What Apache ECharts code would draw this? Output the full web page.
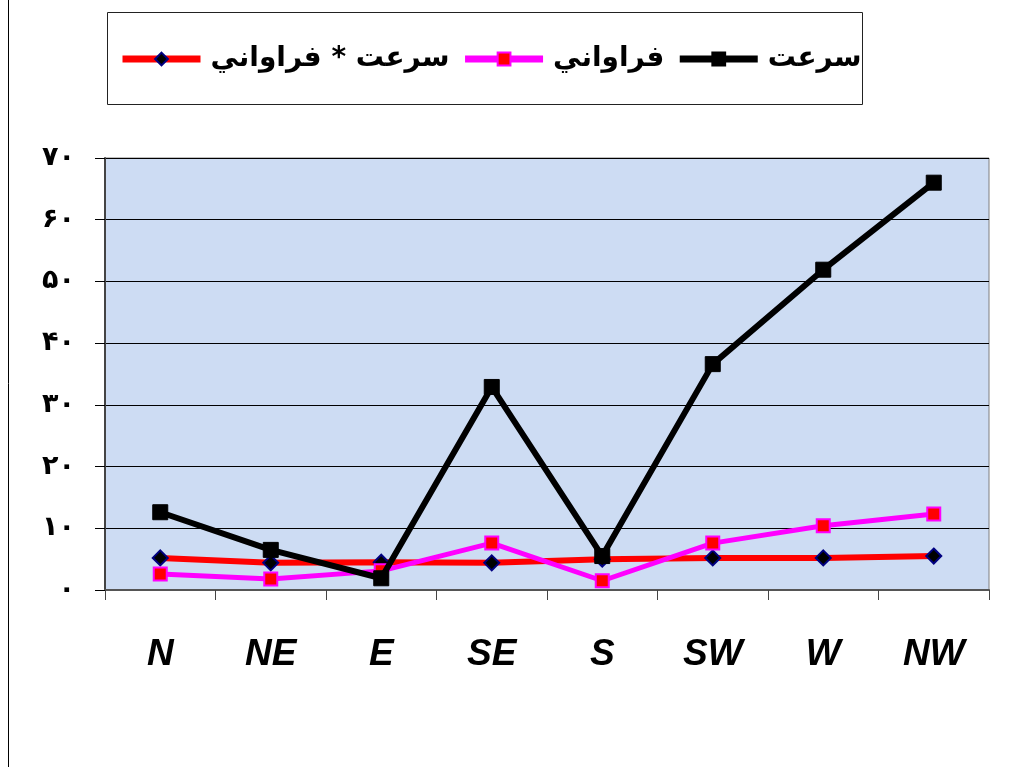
<!DOCTYPE html>
<html>
<head>
<meta charset="utf-8">
<script src="https://cdn.jsdelivr.net/npm/echarts@6/dist/echarts.min.js"></script>
<style>
html,body{margin:0;padding:0;background:#fff;}
#c{width:1013px;height:767px;}
</style>
</head>
<body>
<div id="c"></div>
<script>
const categories = ['N', 'NE', 'E', 'SE', 'S', 'SW', 'W', 'NW'];
const speed = [12.6, 6.5, 1.9, 32.9, 5.5, 36.6, 51.9, 66.0];          // سرعت
const frequency = [2.6, 1.8, 3.1, 7.6, 1.5, 7.6, 10.4, 12.3];       // فراواني
const product = [5.2, 4.4, 4.5, 4.4, 5.0, 5.2, 5.2, 5.5];            // سرعت * فراواني
const yTickLabels = ['۰', '۱۰', '۲۰', '۳۰', '۴۰', '۵۰', '۶۰', '۷۰'];
const seriesNames = ['سرعت * فراواني', 'فراواني', 'سرعت'];

const chart = echarts.init(document.getElementById('c'), null, {renderer: 'canvas'});
chart.setOption({
  backgroundColor: '#ffffff',
  animation: false,
  graphic: [
    {type: 'line', shape: {x1: 8.5, y1: 0, x2: 8.5, y2: 767}, style: {stroke: '#000', lineWidth: 1}},
    {type: 'rect', shape: {x: 107.5, y: 12.5, width: 755, height: 92}, style: {fill: '#fff', stroke: '#222', lineWidth: 1}, z: -1}
  ],
  legend: {
    data: seriesNames,
    left: 114,
    top: 40,
    itemWidth: 78,
    itemHeight: 16,
    itemGap: 12,
    lineStyle: {width: 7},
    textStyle: {fontFamily: 'DejaVu Sans', fontWeight: 'bold', fontSize: 28, color: '#000', padding: [0, 0, 0, 5]}
  },
  grid: {
    left: 105, right: 24, top: 158, bottom: 177,
    show: true, backgroundColor: '#cddcf3', borderColor: '#7f7f7f', borderWidth: 1
  },
  xAxis: {
    type: 'category',
    data: categories,
    boundaryGap: true,
    axisLine: {lineStyle: {color: '#555', width: 2}},
    axisTick: {show: true, length: 10, lineStyle: {color: '#444', width: 1}},
    axisLabel: {
      margin: 46, fontFamily: 'Liberation Sans', fontStyle: 'italic', fontWeight: 'bold',
      fontSize: 37, color: '#000'
    }
  },
  yAxis: {
    type: 'value',
    min: 0, max: 70, interval: 10,
    axisLine: {show: true, lineStyle: {color: '#444', width: 2}},
    axisTick: {show: true, length: 10, lineStyle: {color: '#000'}},
    splitLine: {show: true, lineStyle: {color: '#000', width: 1}},
    axisLabel: {
      margin: 30, fontFamily: 'DejaVu Sans', fontWeight: 'bold', fontSize: 27, color: '#000',
      formatter: v => yTickLabels[Math.round(v / 10)]
    }
  },
  series: [
    {
      name: seriesNames[0], type: 'line', data: product,
      lineStyle: {color: '#ff0000', width: 6},
      symbol: 'diamond', symbolSize: 15,
      itemStyle: {color: '#000', borderColor: '#000080', borderWidth: 2},
      z: 2
    },
    {
      name: seriesNames[1], type: 'line', data: frequency,
      lineStyle: {color: '#ff00ff', width: 5},
      symbol: 'rect', symbolSize: 13,
      itemStyle: {color: '#ff0000', borderColor: '#ff00ff', borderWidth: 2},
      z: 3
    },
    {
      name: seriesNames[2], type: 'line', data: speed,
      lineStyle: {color: '#000', width: 6},
      symbol: 'rect', symbolSize: 15,
      itemStyle: {color: '#000', borderColor: '#000', borderWidth: 1},
      z: 4
    }
  ]
});
</script>
</body>
</html>
